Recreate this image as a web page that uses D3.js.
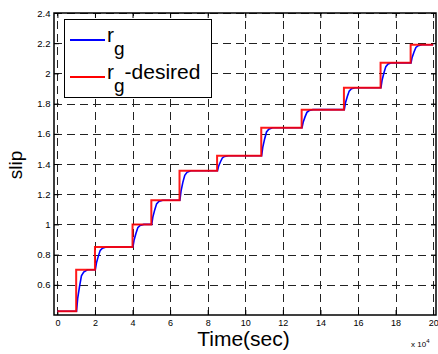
<!DOCTYPE html>
<html>
<head>
<meta charset="utf-8">
<script src="https://cdn.jsdelivr.net/npm/d3@7"></script>
<style>
  body { margin: 0; background: #fff; overflow: hidden; }
  text { font-family: "Liberation Sans", Arial, sans-serif; }
</style>
</head>
<body>
<script>
const width = 438;
const height = 354;
const margin = {top: 13, left: 54, bottom: 39, right: 2};

// desired slip (step reference), time in units of 1e4 s
const stepTimes = [0, 1, 2, 4, 5, 6.5, 8.5, 10.85, 13, 15.25, 17.2, 18.8, 20];
const stepLevels = [0.425, 0.70, 0.85, 1.0, 1.16, 1.355, 1.455, 1.64, 1.76, 1.905, 2.07, 2.19];

const rgTime = [0,
  1.02, 1.08, 1.18, 1.28, 1.4, 1.6,
  2.02, 2.08, 2.18, 2.28, 2.4, 2.6,
  4.02, 4.08, 4.18, 4.28, 4.4, 4.6,
  5.02, 5.08, 5.18, 5.28, 5.4, 5.6,
  6.52, 6.58, 6.68, 6.78, 6.9, 7.1,
  8.52, 8.58, 8.68, 8.78, 8.9, 9.1,
  10.87, 10.93, 11.03, 11.13, 11.25, 11.45,
  13.02, 13.08, 13.18, 13.28, 13.4, 13.6,
  15.27, 15.33, 15.43, 15.53, 15.65, 15.85,
  17.22, 17.28, 17.38, 17.48, 17.6, 17.8,
  18.82, 18.88, 18.98, 19.08, 19.2, 19.4,
  20];
const rgSlip = [0.425,
  0.425, 0.51, 0.59, 0.66, 0.685, 0.70,
  0.70, 0.745, 0.79, 0.828, 0.843, 0.85,
  0.85, 0.895, 0.94, 0.978, 0.993, 1.0,
  1.0, 1.048, 1.096, 1.136, 1.152, 1.16,
  1.16, 1.22, 1.28, 1.325, 1.345, 1.355,
  1.355, 1.385, 1.415, 1.44, 1.45, 1.455,
  1.455, 1.51, 1.566, 1.612, 1.63, 1.64,
  1.64, 1.676, 1.712, 1.742, 1.754, 1.76,
  1.76, 1.804, 1.847, 1.883, 1.898, 1.905,
  1.905, 1.955, 2.004, 2.045, 2.062, 2.07,
  2.07, 2.106, 2.142, 2.172, 2.184, 2.19,
  2.19];

const xTicks = [0, 2, 4, 6, 8, 10, 12, 14, 16, 18, 20];
const yTicks = [0.6, 0.8, 1.0, 1.2, 1.4, 1.6, 1.8, 2.0, 2.2, 2.4];

const x = d3.scaleLinear()
    .domain([-0.18, 20.15])
    .range([margin.left, width - margin.right]);

const y = d3.scaleLinear()
    .domain([0.4, 2.4])
    .range([height - margin.bottom, margin.top]);

const svg = d3.select('body').append('svg')
    .attr('width', width).attr('height', height);

// grid
const grid = svg.append('g')
    .attr('stroke', '#222')
    .attr('stroke-width', 1)
    .attr('stroke-dasharray', '8,5');
grid.selectAll('.vg').data(xTicks).enter().append('line')
    .attr('x1', d => Math.round(x(d)) + 0.5).attr('x2', d => Math.round(x(d)) + 0.5)
    .attr('y1', height - margin.bottom).attr('y2', margin.top);
grid.selectAll('.hg').data(yTicks).enter().append('line')
    .attr('y1', d => Math.round(y(d)) + 0.5).attr('y2', d => Math.round(y(d)) + 0.5)
    .attr('x1', margin.left).attr('x2', width - margin.right);

// axes, MATLAB style: ticks inside on all four sides
const tickLen = 5;
svg.append('g')
    .attr('transform', `translate(0, ${height - margin.bottom})`)
    .call(d3.axisBottom(x).tickValues(xTicks).tickSizeInner(-tickLen).tickSizeOuter(0).tickPadding(5))
    .call(g => g.select('.domain').remove())
    .call(g => g.selectAll('text').attr('font-size', 9).attr('fill', '#000'));
svg.append('g')
    .attr('transform', `translate(0, ${margin.top})`)
    .call(d3.axisTop(x).tickValues(xTicks).tickSizeInner(-tickLen).tickSizeOuter(0).tickFormat(''))
    .call(g => g.select('.domain').remove());
svg.append('g')
    .attr('transform', `translate(${margin.left}, 0)`)
    .call(d3.axisLeft(y).tickValues(yTicks).tickSizeInner(-tickLen).tickSizeOuter(0).tickPadding(3.5)
        .tickFormat(d3.format('~g')))
    .call(g => g.select('.domain').remove())
    .call(g => g.selectAll('text').attr('font-size', 9.5).attr('fill', '#000'));
svg.append('g')
    .attr('transform', `translate(${width - margin.right}, 0)`)
    .call(d3.axisRight(y).tickValues(yTicks).tickSizeInner(-tickLen).tickSizeOuter(0).tickFormat(''))
    .call(g => g.select('.domain').remove());

// lines
const rgLine = d3.line().x((d, i) => x(rgTime[i])).y(d => y(d));
svg.append('path')
    .datum(rgSlip)
    .attr('fill', 'none')
    .attr('stroke', '#0000ff')
    .attr('stroke-width', 1.6)
    .attr('d', rgLine);

const desired = stepLevels.map((v, i) => ({t: stepTimes[i], v}));
desired.push({t: stepTimes[stepTimes.length - 1], v: stepLevels[stepLevels.length - 1]});
const desLine = d3.line().curve(d3.curveStepAfter).x(d => x(d.t)).y(d => y(d.v));
svg.append('path')
    .datum(desired)
    .attr('fill', 'none')
    .attr('stroke', '#ff0000')
    .attr('stroke-width', 2)
    .attr('stroke-opacity', 0.9)
    .attr('d', desLine);

// frame
svg.append('rect')
    .attr('x', margin.left).attr('y', margin.top)
    .attr('width', width - margin.right - margin.left)
    .attr('height', height - margin.bottom - margin.top)
    .attr('fill', 'none').attr('stroke', '#000').attr('stroke-width', 1.5);

// legend
const legend = svg.append('g');
legend.append('rect')
    .attr('x', 64.5).attr('y', 19.5).attr('width', 147).attr('height', 78)
    .attr('fill', '#fff').attr('stroke', '#000').attr('stroke-width', 1);
const entries = [{c: '#0000ff', t: '', yy: 40}, {c: '#ff0000', t: '-desired', yy: 77}];
entries.forEach(e => {
    legend.append('line')
        .attr('x1', 70).attr('x2', 105).attr('y1', e.yy).attr('y2', e.yy)
        .attr('stroke', e.c).attr('stroke-width', 2);
    const txt = legend.append('text')
        .attr('x', 107).attr('y', e.yy + 2)
        .attr('font-size', 21).attr('fill', '#000');
    txt.append('tspan').text('r');
    txt.append('tspan').attr('dy', 12.5).attr('font-size', 19).text('g');
    if (e.t) txt.append('tspan').attr('dy', -12.5).text(e.t);
});

// labels
svg.append('text')
    .attr('transform', 'translate(22, 165) rotate(-90)')
    .attr('text-anchor', 'middle')
    .attr('font-size', 19)
    .text('slip');
svg.append('text')
    .attr('x', 243.5).attr('y', 346)
    .attr('text-anchor', 'middle')
    .attr('font-size', 21)
    .text('Time(sec)');
const ex = svg.append('text')
    .attr('x', 411).attr('y', 347)
    .attr('font-size', 8);
ex.append('tspan').text('x 10');
ex.append('tspan').attr('dy', -4).attr('font-size', 6).text('4');
</script>
</body>
</html>
